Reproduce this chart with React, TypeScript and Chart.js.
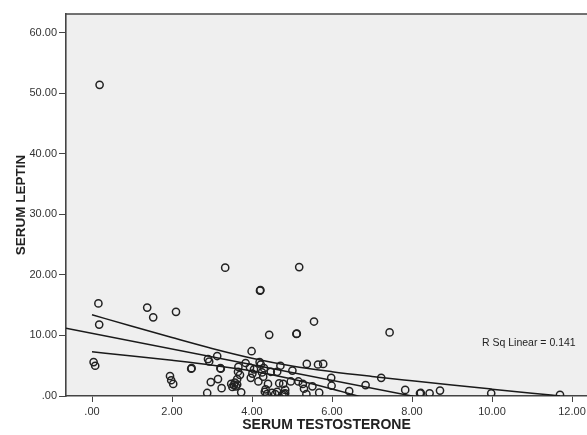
import React, { useEffect, useRef } from "react";
import { Chart, registerables } from "chart.js";

Chart.register(...registerables);

// Scatter data
const testosterone = [
  0.19, 0.16, 0.18, 0.04, 0.08,
  1.38, 1.53, 2.10,
  3.33, 5.18, 4.20, 4.21,
  4.43, 5.11, 5.12, 5.55, 7.44,
  1.95, 1.98, 2.03, 2.48, 2.49,
  2.88, 2.90, 2.93, 2.97,
  3.13, 3.15, 3.21, 3.22, 3.24,
  3.48, 3.51, 3.55, 3.57, 3.60, 3.63, 3.63,
  3.66, 3.65, 3.70, 3.73,
  3.84, 3.99, 3.97, 4.01, 4.05, 3.95,
  4.16, 4.19, 4.22, 4.25, 4.28, 4.30,
  4.32, 4.34, 4.40, 4.47, 4.37,
  4.50, 4.58, 4.63, 4.68, 4.71, 4.63,
  4.76, 4.78, 4.83, 4.83, 4.80,
  4.97, 5.01, 5.16,
  5.37, 5.65, 5.78,
  5.27, 5.30, 5.51, 5.36, 5.68,
  5.98, 5.99, 6.43, 6.84, 7.23,
  7.83, 8.20, 8.22, 8.44, 8.70, 9.98, 11.70,
];
const leptin = [
  51.4, 15.3, 11.8, 5.6, 5.0,
  14.6, 13.0, 13.9,
  21.2, 21.3, 17.4, 17.5,
  10.1, 10.25, 10.3, 12.3, 10.5,
  3.3, 2.6, 2.0, 4.5, 4.6,
  0.5, 6.1, 5.7, 2.3,
  6.6, 2.8, 4.6, 4.5, 1.3,
  2.0, 1.5, 1.8, 2.2, 1.6, 1.9, 2.8,
  4.8, 4.0, 3.5, 0.6,
  5.45, 7.4, 3.0, 3.7, 4.4, 4.7,
  2.4, 5.6, 5.2, 3.9, 3.2, 4.6,
  0.7, 1.1, 2.0, 4.0, 0.3,
  0.5, 0.3, 0.7, 2.1, 5.0, 4.0,
  0.2, 2.0, 1.0, 0.45, 0.3,
  2.4, 4.2, 2.4,
  5.3, 5.2, 5.3,
  2.0, 1.2, 1.6, 0.3, 0.55,
  3.0, 1.7, 0.8, 1.8, 3.0,
  1.0, 0.45, 0.5, 0.45, 0.9, 0.45, 0.2,
];

// Fit line
const fitX = [-0.65, 9.0];
const fitY = [11.2, -1.3];

// Upper confidence curve
const upperX = [0, 1, 2, 3, 4, 5, 6, 7, 8, 9, 10, 11, 11.7];
const upperY = [13.41, 11.52, 9.66, 7.86, 6.25, 4.97, 4.02, 3.23, 2.51, 1.81, 1.13, 0.46, 0.0];

// Lower confidence curve
const lowerX = [0, 1, 2, 3, 4, 5, 6, 7];
const lowerY = [7.31, 6.62, 5.89, 5.09, 4.12, 2.8, 1.16, -0.64];

const xTicks = [0, 2, 4, 6, 8, 10, 12];
const yTicks = [0, 10, 20, 30, 40, 50, 60];
const rSqText = "R Sq Linear = 0.141";

const fmt = (v: number) => (v === 0 ? ".00" : v.toFixed(2));

const FONT = "'Liberation Sans', Arial, sans-serif";

export default function App() {
  const ref = useRef<HTMLCanvasElement | null>(null);

  useEffect(() => {
    document.body.style.margin = "0";
    const canvas = ref.current;
    if (!canvas) return;

    const bgPlugin = {
      id: "bgFrame",
      beforeDraw(chart: any) {
        const { ctx, chartArea } = chart;
        ctx.save();
        ctx.fillStyle = "#efefef";
        ctx.fillRect(chartArea.left, chartArea.top, chartArea.right - chartArea.left, chartArea.bottom - chartArea.top);
        ctx.restore();
      },
      afterDraw(chart: any) {
        const { ctx, chartArea, scales } = chart;
        ctx.save();
        ctx.strokeStyle = "#444";
        ctx.lineWidth = 1.6;
        ctx.beginPath();
        ctx.moveTo(chartArea.left, chartArea.top);
        ctx.lineTo(chartArea.right, chartArea.top);
        ctx.stroke();
        ctx.fillStyle = "#222";
        ctx.font = `10.5px ${FONT}`;
        ctx.textBaseline = "middle";
        ctx.textAlign = "left";
        ctx.fillText(rSqText, scales.x.getPixelForValue(9.75), scales.y.getPixelForValue(8.76));
        ctx.restore();
      },
    };

    const toPts = (xs: number[], ys: number[]) => xs.map((x, i) => ({ x, y: ys[i] }));

    const lineStyle = {
      type: "line" as const,
      borderColor: "#1a1a1a",
      borderWidth: 1.5,
      pointRadius: 0,
      fill: false,
      showLine: true,
    };

    const chart = new Chart(canvas, {
      type: "scatter",
      data: {
        datasets: [
          {
            ...lineStyle,
            data: toPts(fitX, fitY),
          } as any,
          {
            ...lineStyle,
            data: toPts(upperX, upperY),
            cubicInterpolationMode: "monotone",
          } as any,
          {
            ...lineStyle,
            data: toPts(lowerX, lowerY),
            cubicInterpolationMode: "monotone",
          } as any,
          {
            type: "scatter",
            data: toPts(testosterone, leptin),
            pointRadius: 3.6,
            pointBorderWidth: 1.5,
            borderColor: "#222",
            backgroundColor: "rgba(0,0,0,0)",
            pointBackgroundColor: "rgba(0,0,0,0)",
          } as any,
        ],
      },
      options: {
        animation: false,
        responsive: false,
        devicePixelRatio: 1,
        layout: { autoPadding: false, padding: { top: 14, right: 0, left: 0, bottom: 0 } },
        plugins: {
          legend: { display: false },
          tooltip: { enabled: false },
        },
        scales: {
          x: {
            type: "linear",
            min: -0.65,
            max: 12.375,
            afterFit: (s: any) => {
              s.height = 39;
              s.paddingRight = 0;
              s.paddingLeft = 0;
            },
            afterBuildTicks: (s: any) => {
              s.ticks = xTicks.map((v) => ({ value: v }));
            },
            ticks: {
              callback: (v: any) => fmt(Number(v)),
              color: "#333",
              font: { family: FONT, size: 11 },
              padding: 3,
              maxRotation: 0,
              autoSkip: false,
            },
            grid: {
              drawOnChartArea: false,
              drawTicks: true,
              tickLength: 6,
              color: "#444",
            },
            border: { display: true, color: "#444", width: 1.6 },
            title: {
              display: true,
              text: "SERUM TESTOSTERONE",
              color: "#222",
              font: { family: FONT, size: 14, weight: "bold" },
              padding: { top: 0, bottom: 1 },
            },
          },
          y: {
            type: "linear",
            min: 0,
            max: 63.1,
            afterFit: (s: any) => {
              s.width = 66;
              s.paddingTop = 0;
              s.paddingBottom = 0;
            },
            afterBuildTicks: (s: any) => {
              s.ticks = yTicks.map((v) => ({ value: v }));
            },
            ticks: {
              callback: (v: any) => fmt(Number(v)),
              color: "#333",
              font: { family: FONT, size: 11 },
              padding: 2,
              autoSkip: false,
            },
            grid: {
              drawOnChartArea: false,
              drawTicks: true,
              tickLength: 7,
              color: "#444",
            },
            border: { display: true, color: "#444", width: 1.6 },
            title: {
              display: true,
              text: "SERUM LEPTIN",
              color: "#222",
              font: { family: FONT, size: 13.5, weight: "bold" },
              padding: { top: 13, bottom: 0 },
            },
          },
        },
      } as any,
      plugins: [bgPlugin],
    });

    return () => chart.destroy();
  }, []);

  return (
    <div style={{ width: 587, height: 435, background: "#fff" }}>
      <canvas ref={ref} width={587} height={435} style={{ display: "block" }} />
    </div>
  );
}
